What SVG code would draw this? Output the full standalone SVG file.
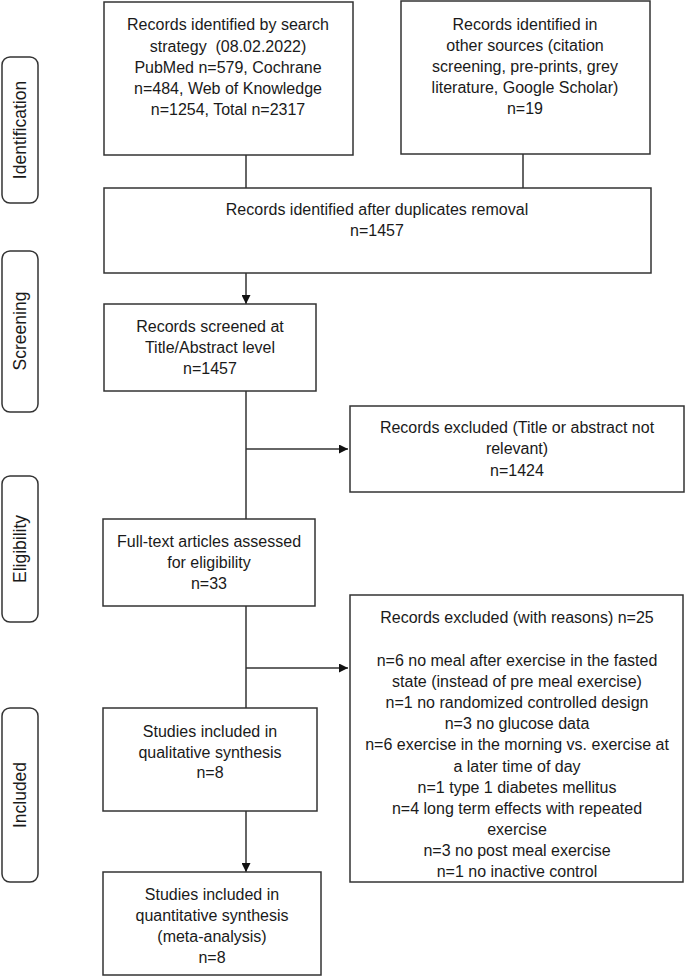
<svg xmlns="http://www.w3.org/2000/svg" width="685" height="977" viewBox="0 0 685 977">
<defs>
<style>
.box{fill:#fff;stroke:#333;stroke-width:1.5}
.side{fill:#fff;stroke:#333;stroke-width:1.5}
.t{font-family:"Liberation Sans",Arial,sans-serif;font-size:16px;fill:#1a1a1a;text-anchor:middle}
.s{font-family:"Liberation Sans",Arial,sans-serif;font-size:17.5px;fill:#1a1a1a;text-anchor:middle}
.c{stroke:#333;stroke-width:1.5;fill:none}
</style>
<marker id="arr" viewBox="0 0 10 10" refX="10" refY="5" markerWidth="9" markerHeight="9" markerUnits="userSpaceOnUse" orient="auto">
<path d="M0,0 L10,5 L0,10 Z" fill="#111"/>
</marker>
</defs>
<rect width="685" height="977" fill="#fff"/>

<g id="side-identification">
<rect class="side" x="2" y="57" width="36" height="146" rx="8"/>
<text class="s" transform="translate(26,130) rotate(-90)">Identification</text>
</g>
<g id="side-screening">
<rect class="side" x="2" y="251" width="36" height="161" rx="8"/>
<text class="s" transform="translate(26,331) rotate(-90)">Screening</text>
</g>
<g id="side-eligibility">
<rect class="side" x="2" y="476" width="36" height="146" rx="8"/>
<text class="s" transform="translate(26,549) rotate(-90)">Eligibility</text>
</g>
<g id="side-included">
<rect class="side" x="2" y="708" width="36" height="174" rx="8"/>
<text class="s" transform="translate(26,795) rotate(-90)">Included</text>
</g>

<g id="connectors">
<line class="c" x1="246" y1="155" x2="246" y2="188"/>
<line class="c" x1="523" y1="154" x2="523" y2="188"/>
<line class="c" x1="246" y1="273" x2="246" y2="304" marker-end="url(#arr)"/>
<line class="c" x1="246" y1="391" x2="246" y2="519"/>
<line class="c" x1="246" y1="449" x2="348" y2="449" marker-end="url(#arr)"/>
<line class="c" x1="246" y1="606" x2="246" y2="708"/>
<line class="c" x1="246" y1="668" x2="348" y2="668" marker-end="url(#arr)"/>
<line class="c" x1="246" y1="811" x2="246" y2="872" marker-end="url(#arr)"/>
</g>

<g id="search">
<rect class="box" x="104" y="2" width="249" height="153"/>
<text class="t" x="228" y="30">Records identified by search</text>
<text class="t" x="228" y="51.5" xml:space="preserve">strategy  (08.02.2022)</text>
<text class="t" x="228" y="73">PubMed n=579, Cochrane</text>
<text class="t" x="228" y="94">n=484, Web of Knowledge</text>
<text class="t" x="228" y="115">n=1254, Total n=2317</text>
</g>
<g id="other">
<rect class="box" x="401" y="1" width="249" height="153"/>
<text class="t" x="525" y="30">Records identified in</text>
<text class="t" x="525" y="51">other sources (citation</text>
<text class="t" x="525" y="72">screening, pre-prints, grey</text>
<text class="t" x="525" y="93">literature, Google Scholar)</text>
<text class="t" x="525" y="114">n=19</text>
</g>
<g id="dedup">
<rect class="box" x="104" y="188" width="547" height="85"/>
<text class="t" x="377" y="215">Records identified after duplicates removal</text>
<text class="t" x="377" y="236">n=1457</text>
</g>
<g id="screened">
<rect class="box" x="104" y="304" width="212" height="87"/>
<text class="t" x="210" y="332">Records screened at</text>
<text class="t" x="210" y="353">Title/Abstract level</text>
<text class="t" x="210" y="374">n=1457</text>
</g>
<g id="excluded1">
<rect class="box" x="350" y="406" width="334" height="86"/>
<text class="t" x="517" y="433">Records excluded (Title or abstract not</text>
<text class="t" x="517" y="454">relevant)</text>
<text class="t" x="517" y="476">n=1424</text>
</g>
<g id="fulltext">
<rect class="box" x="103" y="519" width="212" height="87"/>
<text class="t" x="209" y="547">Full-text articles assessed</text>
<text class="t" x="209" y="568">for eligibility</text>
<text class="t" x="209" y="589">n=33</text>
</g>
<g id="excluded2">
<rect class="box" x="350" y="595" width="333" height="287"/>
<text class="t" x="517" y="623">Records excluded (with reasons) n=25</text>
<text class="t" x="517" y="666">n=6 no meal after exercise in the fasted</text>
<text class="t" x="517" y="687">state (instead of pre meal exercise)</text>
<text class="t" x="517" y="708">n=1 no randomized controlled design</text>
<text class="t" x="517" y="729">n=3 no glucose data</text>
<text class="t" x="517" y="750">n=6 exercise in the morning vs. exercise at</text>
<text class="t" x="517" y="772">a later time of day</text>
<text class="t" x="517" y="793">n=1 type 1 diabetes mellitus</text>
<text class="t" x="517" y="814">n=4 long term effects with repeated</text>
<text class="t" x="517" y="835">exercise</text>
<text class="t" x="517" y="856">n=3 no post meal exercise</text>
<text class="t" x="517" y="877">n=1 no inactive control</text>
</g>
<g id="qualitative">
<rect class="box" x="103" y="708" width="214" height="103"/>
<text class="t" x="210" y="737">Studies included in</text>
<text class="t" x="210" y="758">qualitative synthesis</text>
<text class="t" x="210" y="778">n=8</text>
</g>
<g id="quantitative">
<rect class="box" x="103" y="872" width="218" height="103"/>
<text class="t" x="212" y="900">Studies included in</text>
<text class="t" x="212" y="921">quantitative synthesis</text>
<text class="t" x="212" y="942">(meta-analysis)</text>
<text class="t" x="212" y="963">n=8</text>
</g>
</svg>
